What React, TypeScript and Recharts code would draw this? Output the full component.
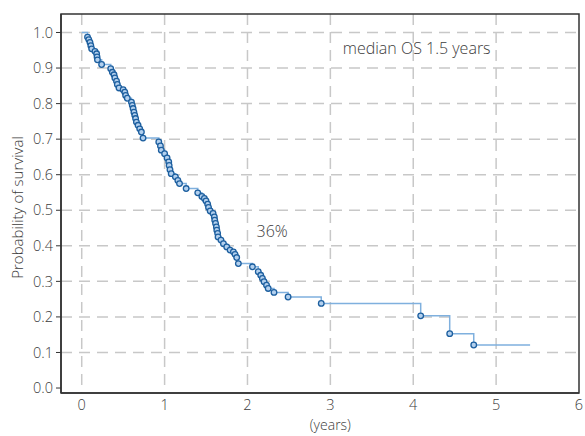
import React from "react";
import {
  ComposedChart,
  Line,
  XAxis,
  YAxis,
  CartesianGrid,
  ReferenceArea,
  ReferenceDot,
} from "recharts";

// Kaplan-Meier steps: time (years) and survival after each event
const times = [
  0, 0.07, 0.085, 0.1, 0.11, 0.12, 0.16, 0.18, 0.185, 0.19, 0.24, 0.35, 0.37, 0.39, 0.4, 0.42,
  0.43, 0.45, 0.5, 0.52, 0.53, 0.55, 0.6, 0.61, 0.62, 0.63, 0.64, 0.65, 0.66, 0.68, 0.7, 0.72,
  0.74, 0.93, 0.95, 0.96, 1.0, 1.03, 1.05, 1.055, 1.065, 1.08, 1.13, 1.16, 1.18, 1.26, 1.4,
  1.45, 1.48, 1.5, 1.52, 1.53, 1.55, 1.585, 1.6, 1.605, 1.615, 1.625, 1.63, 1.64, 1.645, 1.68,
  1.71, 1.75, 1.79, 1.83, 1.85, 1.87, 1.89, 2.06, 2.13, 2.16, 2.18, 2.2, 2.23, 2.25, 2.32, 2.49,
  2.89, 4.09, 4.44, 4.73, 5.41,
];
const survival = [
  1.0, 0.987, 0.98, 0.972, 0.963, 0.954, 0.947, 0.94, 0.931, 0.923, 0.91, 0.898, 0.888, 0.881,
  0.872, 0.863, 0.854, 0.844, 0.839, 0.832, 0.823, 0.815, 0.804, 0.795, 0.786, 0.776, 0.767,
  0.758, 0.748, 0.739, 0.729, 0.72, 0.703, 0.692, 0.681, 0.669, 0.659, 0.647, 0.636, 0.626,
  0.614, 0.603, 0.594, 0.584, 0.575, 0.561, 0.549, 0.539, 0.533, 0.526, 0.517, 0.508, 0.498,
  0.491, 0.481, 0.472, 0.463, 0.453, 0.444, 0.435, 0.425, 0.416, 0.406, 0.397, 0.388, 0.383,
  0.376, 0.367, 0.35, 0.341, 0.327, 0.317, 0.308, 0.299, 0.289, 0.28, 0.269, 0.256, 0.238,
  0.203, 0.153, 0.121, 0.121,
];

const xTicks = [0, 1, 2, 3, 4, 5, 6];
const yTicks = [0, 0.1, 0.2, 0.3, 0.4, 0.5, 0.6, 0.7, 0.8, 0.9, 1.0];

const data = times.map((t, i) => ({ t, s: survival[i] }));

const FONT = "'Open Sans', 'Noto Sans', sans-serif";
const TEXT = "#3c3c3c";
const X_MIN = -0.25;
const X_MAX = 6;
const Y_MIN = -0.014;
const Y_MAX = 1.052;

const EventDot = (props: any) => {
  const { cx, cy, index } = props;
  if (index === 0 || index === data.length - 1) return <g key={`d${index}`} />;
  return (
    <circle
      key={`d${index}`}
      cx={cx}
      cy={cy}
      r={2.8}
      fill="#b3d0ee"
      stroke="#1d5f9f"
      strokeWidth={1.3}
    />
  );
};

export default function App() {
  return (
    <div style={{ position: "absolute", left: 0, top: 0, width: 585, height: 436, background: "#fff" }}>
      <ComposedChart
        width={585}
        height={436}
        data={data}
        margin={{ top: 14, right: 6, bottom: 0, left: 0 }}
      >
        <CartesianGrid
          stroke="#c8c8c8"
          strokeWidth={1.5}
          strokeDasharray="11 7"
          horizontalValues={[0.1, 0.2, 0.3, 0.4, 0.5, 0.6, 0.7, 0.8, 0.9, 1.0]}
          verticalValues={[0, 1, 2, 3, 4, 5]}
        />
        <XAxis
          type="number"
          dataKey="t"
          domain={[X_MIN, X_MAX]}
          ticks={xTicks}
          allowDataOverflow
          height={43}
          axisLine={{ stroke: "#333", strokeWidth: 1.5 }}
          tickLine={false}
          tickMargin={1}
          tick={{ fill: TEXT, fontSize: 14.5, fontFamily: FONT, fontWeight: 300 }}
          label={{
            content: (p: any) => {
              const vb = p.viewBox;
              const cx = vb.x + ((3 - X_MIN) / (X_MAX - X_MIN)) * vb.width;
              return (
                <text x={cx} y={vb.y + vb.height - 6} textAnchor="middle" fill={TEXT} fontSize={14} fontWeight={300} fontFamily={FONT}>
                  (years)
                </text>
              );
            },
          }}
        />
        <YAxis
          type="number"
          dataKey="s"
          domain={[Y_MIN, Y_MAX]}
          ticks={yTicks}
          allowDataOverflow
          width={61}
          axisLine={{ stroke: "#333", strokeWidth: 1.5 }}
          tickLine={{ stroke: "#333" }}
          tickSize={5}
          tickMargin={3}
          tickFormatter={(v: number) => v.toFixed(1)}
          tick={{ fill: TEXT, fontSize: 14.5, fontFamily: FONT, fontWeight: 300 }}
          label={{
            content: (p: any) => {
              const vb = p.viewBox;
              const cy = vb.y + vb.height / 2 + 4;
              return (
                <text
                  x={17}
                  y={cy}
                  transform={`rotate(-90, 17, ${cy})`}
                  textAnchor="middle"
                  dominantBaseline="central"
                  fill={TEXT}
                  fontSize={15}
                  fontWeight={300}
                  fontFamily={FONT}
                >
                  Probability of survival
                </text>
              );
            },
          }}
        />
        <ReferenceArea
          x1={X_MIN}
          x2={X_MAX}
          y1={Y_MIN}
          y2={Y_MAX}
          fill="none"
          fillOpacity={0}
          stroke="#333"
          strokeWidth={1.5}
          ifOverflow="visible"
        />
        <Line
          type="stepAfter"
          dataKey="s"
          stroke="#7fb0de"
          strokeWidth={1.5}
          dot={EventDot}
          activeDot={false}
          isAnimationActive={false}
        />
        <ReferenceDot
          x={3.15}
          y={0.955}
          r={0}
          fill="none"
          stroke="none"
          label={{ value: "median OS 1.5 years", position: "right", offset: 0, fill: TEXT, fontSize: 16, fontWeight: 300, fontFamily: FONT }}
        />
        <ReferenceDot
          x={2.11}
          y={0.44}
          r={0}
          fill="none"
          stroke="none"
          label={{ value: "36%", position: "right", offset: 0, fill: TEXT, fontSize: 16, fontWeight: 300, fontFamily: FONT }}
        />
      </ComposedChart>
    </div>
  );
}
